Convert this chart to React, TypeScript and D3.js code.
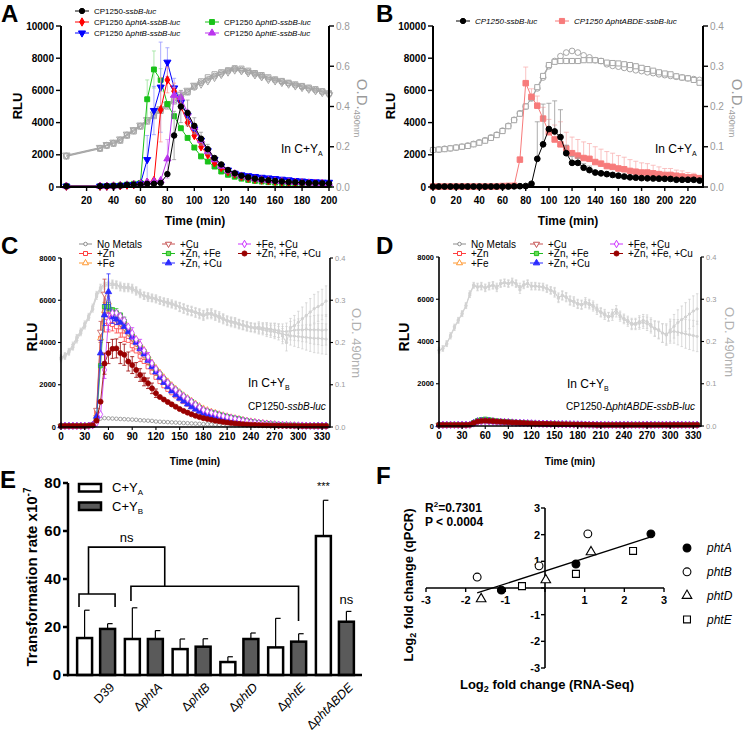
import React from 'react';
import * as d3 from 'd3';

const FONT = "'Liberation Sans', Arial, Helvetica, sans-serif";

// ---------- panel A: RLU and OD in C+YA
const timeA = [5, 30, 35, 40, 45, 50, 55, 60, 65, 70, 75, 80, 85, 90, 95, 100, 105, 110, 115, 120, 125, 130, 135, 140, 145, 150, 155, 160, 165, 170, 175, 180, 185, 190, 195, 200];
const rluA_wt = [50, 50, 60, 70, 90, 130, 150, 150, 200, 200, 250, 800, 3200, 5000, 4600, 3800, 3000, 2350, 1800, 1400, 1050, 850, 700, 600, 520, 460, 420, 380, 340, 310, 290, 270, 250, 240, 230, 220];
const rluA_phtA = [50, 50, 50, 60, 80, 120, 150, 200, 300, 400, 4800, 6650, 5950, 5000, 4000, 3200, 2500, 2000, 1500, 1200, 950, 800, 650, 550, 480, 430, 390, 350, 320, 290, 270, 250, 240, 230, 220, 210];
const rluA_phtB = [50, 50, 50, 60, 80, 120, 150, 200, 1700, 4750, 6200, 7750, 6150, 5250, 4450, 3600, 2900, 2250, 1700, 1300, 1050, 850, 750, 700, 650, 600, 560, 520, 480, 440, 400, 370, 340, 320, 300, 290];
const rluA_phtD = [50, 50, 60, 80, 100, 150, 200, 250, 5450, 7300, 6650, 5150, 4400, 3650, 3050, 2450, 1900, 1580, 1270, 960, 760, 640, 520, 440, 380, 340, 300, 270, 250, 230, 210, 190, 170, 160, 150, 140];
const rluA_phtE = [50, 50, 50, 60, 80, 120, 150, 200, 300, 350, 400, 1750, 5700, 5550, 4600, 3700, 2900, 2200, 1700, 1300, 1000, 820, 680, 580, 500, 450, 400, 370, 340, 310, 290, 270, 250, 240, 230, 220];
const odA_1 = [0.155, 0.193, 0.208, 0.218, 0.234, 0.259, 0.28, 0.303, 0.33, 0.358, 0.383, 0.407, 0.432, 0.449, 0.473, 0.495, 0.518, 0.534, 0.551, 0.564, 0.576, 0.586, 0.581, 0.572, 0.561, 0.551, 0.539, 0.531, 0.523, 0.515, 0.506, 0.498, 0.49, 0.482, 0.473, 0.462];
const odA_2 = [0.152, 0.19, 0.205, 0.215, 0.23, 0.255, 0.276, 0.3, 0.325, 0.352, 0.378, 0.4, 0.425, 0.445, 0.47, 0.5, 0.525, 0.545, 0.56, 0.57, 0.58, 0.59, 0.588, 0.578, 0.566, 0.556, 0.545, 0.535, 0.527, 0.518, 0.51, 0.502, 0.494, 0.486, 0.476, 0.466];
const odA_3 = [0.158, 0.196, 0.21, 0.222, 0.238, 0.262, 0.284, 0.307, 0.334, 0.362, 0.388, 0.412, 0.44, 0.46, 0.48, 0.505, 0.512, 0.528, 0.545, 0.56, 0.572, 0.582, 0.578, 0.568, 0.558, 0.548, 0.535, 0.528, 0.52, 0.512, 0.503, 0.495, 0.487, 0.479, 0.47, 0.458];
const errA_wt = [[85, 1500], [90, 1000], [95, 800], [100, 500], [105, 400], [110, 300]];
const errA_phtA = [[75, 2000], [80, 800], [85, 500]];
const errA_phtB = [[65, 1500], [70, 1500], [75, 2800], [80, 900], [85, 600]];
const errA_phtD = [[65, 1200], [70, 1150], [75, 700]];
const errA_phtE = [[80, 1200], [85, 500], [90, 400]];

// ---------- panel B
const timeB = [0, 5, 10, 15, 20, 25, 30, 35, 40, 45, 50, 55, 60, 65, 70, 75, 80, 85, 90, 95, 100, 105, 110, 115, 120, 125, 130, 135, 140, 145, 150, 155, 160, 165, 170, 175, 180, 185, 190, 195, 200, 205, 210, 215, 220, 225, 230];
const rluB_wt = [30, 30, 30, 30, 30, 30, 30, 30, 30, 30, 30, 30, 30, 30, 40, 50, 60, 200, 1750, 2650, 3600, 3450, 3100, 2100, 1500, 1500, 1200, 1050, 900, 850, 800, 750, 700, 650, 600, 580, 550, 540, 530, 520, 510, 500, 450, 450, 450, 450, 400];
const rluB_ko = [30, 30, 30, 30, 30, 30, 30, 30, 30, 30, 30, 30, 60, 70, 80, 1700, 6450, 5600, 5050, 4250, 3400, 2950, 2650, 2400, 2100, 1950, 1800, 1750, 1550, 1450, 1300, 1250, 1150, 1100, 1000, 950, 900, 900, 850, 800, 750, 750, 700, 650, 600, 600, 550];
const odB_circ = [0.092, 0.093, 0.095, 0.096, 0.098, 0.1, 0.103, 0.107, 0.111, 0.116, 0.123, 0.13, 0.14, 0.152, 0.167, 0.183, 0.2, 0.22, 0.245, 0.272, 0.3, 0.313, 0.325, 0.334, 0.338, 0.334, 0.327, 0.322, 0.315, 0.313, 0.305, 0.301, 0.299, 0.296, 0.293, 0.29, 0.288, 0.285, 0.283, 0.28, 0.278, 0.276, 0.274, 0.272, 0.27, 0.268, 0.266];
const odB_sq = [0.092, 0.093, 0.094, 0.096, 0.098, 0.1, 0.102, 0.106, 0.11, 0.115, 0.122, 0.129, 0.139, 0.151, 0.166, 0.182, 0.2, 0.221, 0.248, 0.276, 0.303, 0.311, 0.313, 0.313, 0.313, 0.313, 0.315, 0.315, 0.315, 0.313, 0.309, 0.308, 0.307, 0.305, 0.303, 0.3, 0.296, 0.293, 0.289, 0.285, 0.282, 0.28, 0.275, 0.272, 0.27, 0.266, 0.259];
const errB_wt = [[90, 2300], [95, 2500], [100, 1600], [105, 1900], [110, 1700], [115, 500], [120, 400], [125, 300], [130, 250], [135, 250]];
const errB_ko = [[80, 1000], [85, 500], [90, 600], [95, 700], [100, 800], [105, 900], [110, 1400], [115, 1000], [120, 1000], [125, 1000], [130, 1000], [135, 950], [140, 950], [145, 900], [150, 900], [155, 850], [160, 800], [165, 750], [170, 700], [175, 650], [180, 600], [185, 550], [190, 500], [195, 450], [200, 400], [205, 400], [210, 350], [215, 350], [220, 300], [225, 250]];

// ---------- panel C (5-min reads, 0..335)
const timeC = d3.range(0, 340, 5);
const cNone = [50, 50, 50, 50, 50, 50, 50, 60, 80, 200, 400, 420, 410, 400, 390, 380, 370, 360, 350, 340, 320, 310, 300, 290, 260, 250, 240, 230, 220, 210, 200, 190, 180, 170, 160, 150, 140, 130, 120, 110, 100, 95, 90, 85, 80, 75, 70, 65, 60, 60, 55, 55, 50, 50, 50, 50, 50, 50, 50, 50, 50, 50, 50, 50, 50, 50, 50, 50];
const cZn = [50, 50, 50, 50, 50, 50, 50, 60, 100, 700, 4200, 5000, 4900, 4850, 4750, 4550, 4350, 4100, 3850, 3600, 3350, 3100, 2850, 2600, 2350, 2150, 1950, 1780, 1620, 1470, 1330, 1200, 1080, 960, 850, 760, 680, 620, 570, 520, 470, 430, 390, 350, 320, 290, 260, 230, 200, 180, 160, 140, 125, 110, 100, 90, 85, 80, 75, 70, 65, 60, 55, 55, 50, 50, 50, 50];
const cFe = [50, 50, 50, 50, 50, 50, 50, 60, 100, 600, 4200, 5500, 5900, 5500, 5400, 5250, 5000, 4700, 4400, 4150, 3900, 3650, 3350, 3050, 2800, 2580, 2360, 2160, 1980, 1810, 1650, 1500, 1370, 1240, 1110, 990, 880, 800, 730, 670, 610, 560, 510, 460, 420, 380, 340, 300, 270, 240, 210, 190, 170, 150, 130, 115, 100, 90, 85, 80, 75, 70, 65, 60, 55, 55, 50, 50];
const cCu = [50, 50, 50, 50, 50, 50, 50, 60, 120, 800, 4500, 6300, 5300, 5300, 5100, 4900, 4700, 4450, 4200, 3950, 3650, 3400, 3100, 2850, 2600, 2380, 2160, 1960, 1780, 1620, 1460, 1320, 1190, 1070, 950, 850, 750, 680, 610, 550, 490, 440, 390, 350, 310, 280, 250, 220, 190, 170, 150, 135, 120, 105, 95, 85, 80, 75, 70, 65, 60, 60, 55, 55, 50, 50, 50, 50];
const cZnFe = [50, 50, 50, 50, 50, 50, 50, 60, 80, 400, 2900, 5700, 5700, 5550, 5400, 5300, 5000, 4650, 4300, 4050, 3800, 3560, 3250, 2950, 2700, 2500, 2270, 2070, 1900, 1750, 1600, 1450, 1320, 1200, 1050, 920, 800, 740, 690, 650, 590, 540, 490, 450, 410, 380, 330, 290, 250, 230, 200, 180, 160, 140, 125, 110, 100, 90, 85, 75, 70, 65, 60, 60, 55, 50, 50, 50];
const cZnCu = [50, 50, 50, 50, 50, 50, 50, 60, 100, 500, 3500, 5300, 6400, 5200, 5100, 4950, 4750, 4500, 4250, 4000, 3700, 3450, 3150, 2850, 2600, 2350, 2100, 1900, 1700, 1520, 1360, 1220, 1080, 950, 840, 740, 650, 580, 520, 460, 410, 360, 320, 280, 250, 220, 195, 170, 150, 130, 115, 105, 95, 85, 80, 75, 70, 65, 60, 60, 55, 55, 50, 50, 50, 50, 50, 50];
const cFeCu = [50, 50, 50, 50, 50, 50, 50, 60, 80, 200, 600, 2700, 5000, 5400, 5400, 5250, 5050, 4750, 4450, 4150, 3900, 3620, 3320, 3020, 2750, 2520, 2300, 2100, 1920, 1760, 1600, 1460, 1330, 1200, 1060, 930, 810, 740, 680, 630, 570, 520, 470, 430, 390, 350, 310, 280, 240, 220, 195, 175, 155, 135, 120, 105, 95, 85, 80, 75, 70, 65, 60, 55, 55, 50, 50, 50];
const cAll = [50, 50, 50, 50, 50, 50, 50, 60, 80, 300, 1200, 3000, 3500, 3700, 3720, 3500, 3420, 3100, 2930, 2700, 2460, 2250, 2070, 1830, 1600, 1420, 1300, 1180, 1070, 960, 850, 760, 680, 600, 530, 470, 420, 380, 340, 300, 270, 240, 215, 190, 170, 150, 135, 120, 110, 100, 90, 85, 80, 75, 70, 65, 60, 60, 55, 55, 50, 50, 50, 50, 50, 50, 50, 50];
const errC_zn = [[55, 500], [60, 400], [65, 300], [70, 300], [75, 300], [80, 300], [90, 250], [100, 250]];
const errC_fe = [[55, 400], [60, 300]];
const errC_cu = [[50, 500], [55, 700], [60, 300]];
const errC_znfe = [[60, 200], [70, 200], [80, 200]];
const errC_zncu = [[50, 600], [55, 500], [60, 850], [65, 300], [70, 250]];
const errC_fecu = [[55, 400], [60, 400], [90, 250], [100, 250], [110, 200]];
const errC_all = [[55, 500], [60, 500], [65, 450], [70, 450], [75, 500], [80, 500], [85, 450], [90, 400], [95, 350], [100, 300], [105, 300], [110, 250], [115, 250], [120, 200]];
const odC_1 = [0.163, 0.168, 0.178, 0.19, 0.21, 0.225, 0.241, 0.26, 0.281, 0.312, 0.328, 0.336, 0.338, 0.34, 0.338, 0.332, 0.332, 0.33, 0.328, 0.324, 0.316, 0.312, 0.308, 0.307, 0.305, 0.3, 0.298, 0.296, 0.293, 0.29, 0.285, 0.28, 0.277, 0.276, 0.273, 0.268, 0.265, 0.27, 0.269, 0.266, 0.263, 0.258, 0.253, 0.25, 0.249, 0.245, 0.242, 0.24, 0.237, 0.236, 0.237, 0.235, 0.233, 0.232, 0.23, 0.228, 0.215, 0.2, 0.235, 0.24, 0.248, 0.256, 0.264, 0.272, 0.28, 0.285, 0.29, 0.298];
const odC_2 = [0.165, 0.17, 0.18, 0.195, 0.213, 0.228, 0.245, 0.263, 0.285, 0.315, 0.33, 0.34, 0.342, 0.338, 0.335, 0.335, 0.33, 0.332, 0.33, 0.322, 0.318, 0.31, 0.31, 0.305, 0.302, 0.3, 0.295, 0.293, 0.29, 0.287, 0.283, 0.282, 0.278, 0.274, 0.27, 0.27, 0.266, 0.268, 0.27, 0.264, 0.26, 0.256, 0.252, 0.25, 0.247, 0.244, 0.241, 0.238, 0.236, 0.235, 0.234, 0.233, 0.232, 0.23, 0.229, 0.228, 0.226, 0.226, 0.228, 0.229, 0.23, 0.23, 0.231, 0.23, 0.23, 0.23, 0.229, 0.23];
const odC_3 = [0.16, 0.166, 0.176, 0.188, 0.205, 0.222, 0.238, 0.258, 0.278, 0.308, 0.325, 0.333, 0.335, 0.336, 0.336, 0.33, 0.328, 0.328, 0.325, 0.32, 0.314, 0.31, 0.305, 0.304, 0.302, 0.298, 0.296, 0.292, 0.29, 0.288, 0.284, 0.279, 0.275, 0.273, 0.27, 0.266, 0.262, 0.266, 0.266, 0.262, 0.258, 0.254, 0.25, 0.247, 0.245, 0.242, 0.24, 0.237, 0.235, 0.233, 0.232, 0.23, 0.228, 0.226, 0.225, 0.222, 0.22, 0.218, 0.216, 0.215, 0.214, 0.213, 0.212, 0.211, 0.21, 0.21, 0.209, 0.208];
const odErrC = [0.006, 0.006, 0.006, 0.006, 0.006, 0.006, 0.006, 0.006, 0.006, 0.006, 0.008, 0.008, 0.008, 0.008, 0.008, 0.008, 0.008, 0.008, 0.008, 0.008, 0.008, 0.008, 0.008, 0.008, 0.008, 0.008, 0.008, 0.008, 0.008, 0.008, 0.01, 0.01, 0.01, 0.01, 0.01, 0.01, 0.01, 0.01, 0.01, 0.01, 0.01, 0.01, 0.01, 0.01, 0.01, 0.01, 0.01, 0.01, 0.01, 0.01, 0.012, 0.012, 0.014, 0.014, 0.016, 0.016, 0.018, 0.02, 0.022, 0.024, 0.026, 0.028, 0.03, 0.032, 0.034, 0.035, 0.036, 0.036];

// ---------- panel D
const timeD = d3.range(0, 340, 5);
const dNone = [50, 50, 50, 50, 50, 50, 50, 50, 60, 100, 150, 170, 170, 160, 150, 150, 140, 140, 130, 120, 110, 105, 100, 95, 90, 85, 80, 80, 75, 75, 70, 70, 65, 65, 60, 60, 60, 55, 55, 55, 55, 50, 50, 50, 50, 50, 50, 50, 50, 50, 50, 50, 50, 50, 50, 50, 50, 50, 50, 50, 50, 50, 50, 50, 50, 50, 50, 50];
const dZn = [50, 50, 50, 50, 50, 50, 50, 50, 60, 150, 230, 260, 270, 250, 230, 210, 200, 190, 180, 170, 160, 150, 140, 130, 120, 115, 110, 105, 100, 95, 90, 85, 80, 80, 75, 75, 70, 70, 65, 60, 60, 50, 50, 50, 50, 50, 50, 50, 50, 50, 50, 50, 50, 50, 50, 50, 50, 50, 50, 50, 50, 50, 50, 50, 50, 50, 50, 50];
const dFe = [50, 50, 50, 50, 50, 50, 50, 50, 60, 140, 220, 250, 260, 240, 220, 200, 190, 180, 170, 160, 150, 140, 130, 125, 120, 115, 110, 105, 100, 95, 90, 85, 80, 75, 75, 70, 70, 65, 65, 60, 60, 50, 50, 50, 50, 50, 50, 50, 50, 50, 50, 50, 50, 50, 50, 50, 50, 50, 50, 50, 50, 50, 50, 50, 50, 50, 50, 50];
const dCu = [50, 50, 50, 50, 50, 50, 50, 50, 60, 130, 200, 230, 240, 230, 215, 200, 190, 180, 170, 160, 150, 140, 130, 120, 115, 110, 105, 100, 95, 90, 85, 80, 80, 75, 70, 70, 65, 65, 60, 60, 55, 50, 50, 50, 50, 50, 50, 50, 50, 50, 50, 50, 50, 50, 50, 50, 50, 50, 50, 50, 50, 50, 50, 50, 50, 50, 50, 50];
const dZnFe = [50, 50, 50, 50, 50, 50, 50, 50, 60, 160, 250, 300, 320, 290, 260, 240, 220, 210, 200, 185, 170, 160, 150, 140, 130, 120, 115, 110, 105, 100, 95, 90, 85, 80, 80, 75, 70, 70, 65, 65, 60, 50, 50, 50, 50, 50, 50, 50, 50, 50, 50, 50, 50, 50, 50, 50, 50, 50, 50, 50, 50, 50, 50, 50, 50, 50, 50, 50];
const dZnCu = [50, 50, 50, 50, 50, 50, 50, 50, 60, 140, 220, 250, 250, 240, 220, 200, 190, 180, 170, 160, 150, 140, 130, 120, 115, 110, 105, 100, 95, 90, 85, 80, 80, 75, 70, 70, 65, 65, 60, 60, 55, 50, 50, 50, 50, 50, 50, 50, 50, 50, 50, 50, 50, 50, 50, 50, 50, 50, 50, 50, 50, 50, 50, 50, 50, 50, 50, 50];
const dFeCu = [50, 50, 50, 50, 50, 50, 50, 50, 60, 120, 190, 220, 230, 220, 210, 200, 190, 180, 170, 160, 150, 140, 130, 125, 120, 115, 110, 105, 100, 95, 90, 85, 80, 75, 75, 70, 70, 65, 60, 60, 55, 50, 50, 50, 50, 50, 50, 50, 50, 50, 50, 50, 50, 50, 50, 50, 50, 50, 50, 50, 50, 50, 50, 50, 50, 50, 50, 50];
const dAll = [50, 50, 50, 50, 50, 50, 50, 50, 60, 140, 210, 240, 250, 240, 230, 210, 200, 190, 180, 170, 160, 150, 140, 130, 120, 115, 110, 105, 100, 95, 90, 85, 80, 80, 75, 70, 70, 65, 65, 60, 60, 50, 50, 50, 50, 50, 50, 50, 50, 50, 50, 50, 50, 50, 50, 50, 50, 50, 50, 50, 50, 50, 50, 50, 50, 50, 50, 50];
const odD_1 = [0.18, 0.184, 0.196, 0.215, 0.235, 0.251, 0.267, 0.286, 0.314, 0.334, 0.33, 0.332, 0.326, 0.33, 0.332, 0.326, 0.338, 0.34, 0.338, 0.342, 0.338, 0.322, 0.335, 0.338, 0.33, 0.332, 0.33, 0.33, 0.326, 0.322, 0.318, 0.302, 0.31, 0.306, 0.298, 0.296, 0.29, 0.288, 0.294, 0.29, 0.286, 0.278, 0.27, 0.266, 0.259, 0.266, 0.275, 0.262, 0.255, 0.25, 0.243, 0.243, 0.247, 0.25, 0.247, 0.24, 0.231, 0.228, 0.22, 0.215, 0.227, 0.236, 0.245, 0.252, 0.258, 0.265, 0.272, 0.277];
const odD_2 = [0.178, 0.183, 0.194, 0.212, 0.232, 0.249, 0.265, 0.284, 0.31, 0.332, 0.328, 0.33, 0.328, 0.332, 0.334, 0.33, 0.336, 0.338, 0.336, 0.34, 0.336, 0.33, 0.333, 0.336, 0.332, 0.33, 0.33, 0.328, 0.324, 0.32, 0.315, 0.305, 0.308, 0.304, 0.296, 0.293, 0.288, 0.286, 0.29, 0.287, 0.282, 0.274, 0.268, 0.262, 0.258, 0.26, 0.268, 0.258, 0.252, 0.246, 0.24, 0.24, 0.243, 0.245, 0.242, 0.236, 0.23, 0.226, 0.22, 0.218, 0.222, 0.224, 0.222, 0.22, 0.218, 0.216, 0.214, 0.212];
const odErrD = odErrC;

// ---------- panel E
const groupsE = ['D39', 'ΔphtA', 'ΔphtB', 'ΔphtD', 'ΔphtE', 'ΔphtABDE'];
const rateYA = [15.4, 15, 10.8, 5.4, 11.5, 57.9];
const rateYA_err = [11.6, 13, 4.2, 2.2, 12.1, 14.9];
const rateYB = [19.2, 15, 11.8, 15, 13.9, 22.2];
const rateYB_err = [2.2, 3.5, 3.3, 2.5, 3.3, 4.3];

// ---------- panel F
const fPhtA = [[2.67, 2.03], [0.78, 0.9], [-1.1, -0.08]];
const fPhtB = [[-1.71, 0.41], [-0.15, 0.83], [1.08, 2.03]];
const fPhtD = [[-1.61, -0.41], [0.02, 0.3], [1.16, 1.35]];
const fPhtE = [[-0.58, 0.07], [0.78, 0.53], [2.22, 1.39]];

type Sym = 'circle' | 'square' | 'triangle' | 'triangleDown' | 'diamond';
const symType = (s: Sym) =>
  s === 'circle' ? d3.symbolCircle : s === 'square' ? d3.symbolSquare : s === 'diamond' ? d3.symbolDiamond : d3.symbolTriangle;

function Mark({ x, y, sym, size, fill, stroke, sw = 1 }: any) {
  const d = d3.symbol().type(symType(sym)).size(size)() as string;
  const rot = sym === 'triangleDown' ? ' rotate(180)' : '';
  return <path d={d} transform={`translate(${x},${y})${rot}`} fill={fill} stroke={stroke} strokeWidth={sw} />;
}

// line + markers + optional error bars
function Curve({ t, v, x, y, color, sym, size, fill, errs, errColor, lw = 1, mstroke, msw = 1, up = false, cap = 2 }: any) {
  const pts: [number, number][] = v.map((val: number, i: number) => [t[i], val]).filter((p: any) => p[0] !== undefined);
  const path = d3.line<[number, number]>().x(d => x(d[0])).y(d => y(d[1]))(pts) || '';
  return (
    <g>
      {errs && errs.map(([tt, e]: number[], i: number) => {
        const idx = t.indexOf(tt);
        if (idx < 0) return null;
        const cx = x(tt);
        const y1 = y(v[idx] + e);
        const y2 = up ? y(v[idx]) : y(Math.max(0, v[idx] - e));
        return (
          <g key={i} stroke={errColor ?? color} strokeWidth={0.8}>
            <line x1={cx} x2={cx} y1={y1} y2={y2} />
            <line x1={cx - cap} x2={cx + cap} y1={y1} y2={y1} />
            {!up && <line x1={cx - cap} x2={cx + cap} y1={y2} y2={y2} />}
          </g>
        );
      })}
      <path d={path} fill="none" stroke={color} strokeWidth={lw} />
      {sym && pts.map((p, i) => (
        <Mark key={i} x={x(p[0])} y={y(p[1])} sym={sym} size={size} fill={fill} stroke={mstroke ?? color} sw={msw} />
      ))}
    </g>
  );
}

function YAxis({ scale, x, ticks, side, fontSize, weight = 'bold', color = '#000', len = 4, sw = 2, fmt = (d: number) => String(d), gap = 2 }: any) {
  const [r0, r1] = scale.range();
  const dir = side === 'left' ? -1 : 1;
  return (
    <g>
      <line x1={x} x2={x} y1={r0 + sw / 2} y2={r1} stroke="#000" strokeWidth={sw} />
      {ticks.map((t: number) => (
        <g key={t}>
          <line x1={x} x2={x + dir * len} y1={scale(t)} y2={scale(t)} stroke="#000" strokeWidth={sw * 0.7} />
          <text x={x + dir * (len + gap)} y={scale(t)} dy="0.35em" textAnchor={side === 'left' ? 'end' : 'start'}
            fontSize={fontSize} fontWeight={weight} fill={color}>{fmt(t)}</text>
        </g>
      ))}
    </g>
  );
}

function XAxis({ scale, y, ticks, x0, x1, fontSize, len = 4, sw = 2, labelDy = 12 }: any) {
  return (
    <g>
      <line x1={x0} x2={x1} y1={y} y2={y} stroke="#000" strokeWidth={sw} />
      {ticks.map((t: number) => (
        <g key={t}>
          <line x1={scale(t)} x2={scale(t)} y1={y} y2={y + len} stroke="#000" strokeWidth={sw * 0.7} />
          <text x={scale(t)} y={y + labelDy} textAnchor="middle" fontSize={fontSize} fontWeight="bold">{t}</text>
        </g>
      ))}
    </g>
  );
}

function Rich({ s }: { s: string }) {
  return <>{s.split('*').map((p, i) => <tspan key={i} fontStyle={i % 2 ? 'italic' : 'normal'}>{p}</tspan>)}</>;
}

function LegendItem({ x, y, color, sym, size, fill, label, fontSize, w = 14, msw = 1 }: any) {
  return (
    <g>
      <line x1={x} x2={x + w} y1={y} y2={y} stroke={color} strokeWidth={1} />
      <Mark x={x + w / 2} y={y} sym={sym} size={size} fill={fill} stroke={color} sw={msw} />
      <text x={x + w + 5} y={y} dy="0.35em" fontSize={fontSize}><Rich s={label} /></text>
    </g>
  );
}

const cSeries = [
  { v: cNone, color: '#8c8c8c', sym: 'circle', size: 10, fill: 'white', label: 'No Metals' },
  { v: cZn, color: '#ff4040', sym: 'square', size: 16, fill: 'white', label: '+Zn', errs: errC_zn },
  { v: cFe, color: '#ff9933', sym: 'triangle', size: 16, fill: 'white', label: '+Fe', errs: errC_fe },
  { v: cCu, color: '#c65353', sym: 'triangleDown', size: 16, fill: 'white', label: '+Cu', errs: errC_cu },
  { v: cZnFe, color: '#22bb22', sym: 'square', size: 18, fill: '#66dd55', label: '+Zn, +Fe', errs: errC_znfe },
  { v: cZnCu, color: '#2b2bff', sym: 'triangle', size: 18, fill: '#2b2bff', label: '+Zn, +Cu', errs: errC_zncu },
  { v: cFeCu, color: '#cc33ff', sym: 'diamond', size: 16, fill: 'white', label: '+Fe, +Cu', errs: errC_fecu },
  { v: cAll, color: '#990000', sym: 'circle', size: 20, fill: '#990000', label: '+Zn, +Fe, +Cu', errs: errC_all },
];
const dValues = [dNone, dZn, dFe, dCu, dZnFe, dZnCu, dFeCu, dAll];

function MetalLegend({ cols }: { cols: number[] }) {
  const rows = [244, 253.5, 263];
  return (
    <g>
      {cSeries.map((s, i) => (
        <LegendItem key={i} x={cols[Math.floor(i / 3)]} y={rows[i % 3]} color={s.color} sym={s.sym} size={s.size}
          fill={s.fill} label={s.label} fontSize={10} w={13} />
      ))}
    </g>
  );
}

export default function App() {
  // A
  const xA = d3.scaleLinear([1, 200], [61, 329]);
  const yA = d3.scaleLinear([0, 10000], [187, 26]);
  const oA = d3.scaleLinear([0, 0.8], [187, 26]);
  // B
  const xB = d3.scaleLinear([0, 233], [433, 703]);
  const yB = d3.scaleLinear([0, 10000], [187, 26]);
  const oB = d3.scaleLinear([0, 0.4], [187, 26]);
  // C
  const xC = d3.scaleLinear([0, 340], [61, 330]);
  const yC = d3.scaleLinear([0, 8000], [427, 258]);
  const oC = d3.scaleLinear([0, 0.4], [427, 258]);
  // D
  const xD = d3.scaleLinear([0, 340], [439, 701]);
  const yD = d3.scaleLinear([0, 8000], [426, 257]);
  const oD = d3.scaleLinear([0, 0.4], [426, 257]);
  // E
  const xE = d3.scaleBand<string>().domain(groupsE).range([69, 362]).paddingInner(0.205).paddingOuter(0.17);
  const xSub = d3.scaleBand<string>().domain(['A', 'B']).range([0, xE.bandwidth()]).paddingInner(0.35);
  const yE = d3.scaleLinear([0, 80], [675, 483]);
  const bx = (g: string, f: number) => (xE(g) as number) + f * xE.bandwidth();
  // F
  const xF = d3.scaleLinear([-3, 3], [426, 664]);
  const yF = d3.scaleLinear([-3, 3], [668, 508]);
  const allF = [...fPhtA, ...fPhtB, ...fPhtD, ...fPhtE];
  const mx = d3.mean(allF, d => d[0]) as number;
  const my = d3.mean(allF, d => d[1]) as number;
  const slope = (d3.sum(allF, d => (d[0] - mx) * (d[1] - my))) / (d3.sum(allF, d => (d[0] - mx) ** 2));
  const icpt = my - slope * mx;
  const [fx0, fx1] = d3.extent(allF, d => d[0]) as [number, number];

  const odGray = '#a6a6a6';
  const odLight = '#d2d2d2';
  const labGray = '#9a9a9a';

  return (
    <svg width={746} height={731} style={{ position: 'absolute', left: 0, top: 0, background: '#fff' }} fontFamily={FONT}>
      {/* ================= A ================= */}
      <text x={1} y={22} fontSize={24} fontWeight="bold">A</text>
      <Curve t={timeA} v={odA_1} x={xA} y={oA} color={odGray} sym="circle" size={26} fill="none" />
      <Curve t={timeA} v={odA_2} x={xA} y={oA} color={odGray} sym="square" size={26} fill="none" />
      <Curve t={timeA} v={odA_3} x={xA} y={oA} color={odGray} sym="triangleDown" size={24} fill="none" />
      <Curve t={timeA} v={rluA_phtD} x={xA} y={yA} color="#19c219" sym="square" size={24} fill="#19c219" errs={errA_phtD} errColor="#9be39b" />
      <Curve t={timeA} v={rluA_phtB} x={xA} y={yA} color="#0000ff" sym="triangleDown" size={22} fill="#0000ff" errs={errA_phtB} errColor="#9999ff" />
      <Curve t={timeA} v={rluA_phtA} x={xA} y={yA} color="#ff0000" sym="diamond" size={20} fill="#ff0000" errs={errA_phtA} errColor="#ff9999" />
      <Curve t={timeA} v={rluA_phtE} x={xA} y={yA} color="#bb33ee" sym="triangle" size={22} fill="#bb33ee" errs={errA_phtE} errColor="#dd99f5" />
      <Curve t={timeA} v={rluA_wt} x={xA} y={yA} color="#000" sym="circle" size={24} fill="#000" errs={errA_wt} errColor="#999" />
      <YAxis scale={yA} x={61} side="left" ticks={[0, 2000, 4000, 6000, 8000, 10000]} fontSize={10} len={5} />
      <YAxis scale={oA} x={329} side="right" ticks={[0, 0.2, 0.4, 0.6, 0.8]} fontSize={10} weight="normal" color={labGray} len={5} fmt={(d: number) => d.toFixed(1)} />
      <XAxis scale={xA} y={187} x0={61} x1={329} ticks={d3.range(20, 201, 20)} fontSize={10} len={4} labelDy={17} />
      <text transform="translate(22,106) rotate(-90)" textAnchor="middle" fontSize={13} fontWeight="bold">RLU</text>
      <text transform="translate(357,108) rotate(90)" textAnchor="middle" fill={labGray} fontSize={15}>O.D.<tspan fontSize={9} dy={3}>490nm</tspan></text>
      <text x={195} y={225} textAnchor="middle" fontSize={12} fontWeight="bold">Time  (min)</text>
      <text x={281} y={153} fontSize={12}>In C+Y<tspan fontSize={7} dy={3}>A</tspan></text>
      <LegendItem x={75} y={11} color="#000" sym="circle" size={22} fill="#000" label="CP1250-*ssbB*-*luc*" fontSize={8} />
      <LegendItem x={75} y={22} color="#ff0000" sym="diamond" size={20} fill="#ff0000" label="CP1250 Δ*phtA*-*ssbB*-*luc*" fontSize={8} />
      <LegendItem x={75} y={33} color="#0000ff" sym="triangleDown" size={22} fill="#0000ff" label="CP1250 Δ*phtB*-*ssbB*-*luc*" fontSize={8} />
      <LegendItem x={205} y={22} color="#19c219" sym="square" size={24} fill="#19c219" label="CP1250 Δ*phtD*-*ssbB*-*luc*" fontSize={8} />
      <LegendItem x={205} y={33} color="#bb33ee" sym="triangle" size={22} fill="#bb33ee" label="CP1250 Δ*phtE*-*ssbB*-*luc*" fontSize={8} />

      {/* ================= B ================= */}
      <text x={376} y={22} fontSize={24} fontWeight="bold">B</text>
      <Curve t={timeB} v={odB_circ} x={xB} y={oB} color={odGray} sym="circle" size={26} fill="white" />
      <Curve t={timeB} v={odB_sq} x={xB} y={oB} color={odGray} sym="square" size={26} fill="white" />
      <Curve t={timeB} v={rluB_ko} x={xB} y={yB} color="#f77b7b" sym="square" size={30} fill="#f77b7b" errs={errB_ko} errColor="#f9b3b3" up cap={2.5} />
      <Curve t={timeB} v={rluB_wt} x={xB} y={yB} color="#000" sym="circle" size={26} fill="#000" errs={errB_wt} errColor="#999" up cap={2.5} />
      <YAxis scale={yB} x={433} side="left" ticks={[0, 2000, 4000, 6000, 8000, 10000]} fontSize={10} len={5} />
      <YAxis scale={oB} x={703} side="right" ticks={[0, 0.1, 0.2, 0.3, 0.4]} fontSize={10} weight="normal" color={labGray} len={5} fmt={(d: number) => d.toFixed(1)} />
      <XAxis scale={xB} y={187} x0={433} x1={703} ticks={d3.range(0, 221, 20)} fontSize={10} len={4} labelDy={17} />
      <text transform="translate(395,106) rotate(-90)" textAnchor="middle" fontSize={13} fontWeight="bold">RLU</text>
      <text transform="translate(732,108) rotate(90)" textAnchor="middle" fill={labGray} fontSize={15}>O.D.<tspan fontSize={9} dy={3}>490nm</tspan></text>
      <text x={568} y={225} textAnchor="middle" fontSize={12} fontWeight="bold">Time  (min)</text>
      <text x={655} y={153} fontSize={12}>In C+Y<tspan fontSize={7} dy={3}>A</tspan></text>
      <LegendItem x={456} y={21} color="#000" sym="circle" size={22} fill="#000" label="*CP1250-ssbB-luc*" fontSize={8} />
      <LegendItem x={555} y={21} color="#f77b7b" sym="square" size={26} fill="#f77b7b" label="*CP1250 ΔphtABDE-ssbB-luc*" fontSize={8} />

      {/* ================= C ================= */}
      <text x={1} y={254} fontSize={24} fontWeight="bold">C</text>
      {[odC_1, odC_2, odC_3].map((o, k) => (
        <Curve key={k} t={timeC} v={o} x={xC} y={oC} color={odLight} sym="circle" size={4} fill={odLight}
          errs={timeC.map((tt, i) => [tt, odErrC[i]])} cap={1.2} />
      ))}
      {cSeries.map((s, k) => (
        <Curve key={k} t={timeC} v={s.v} x={xC} y={yC} color={s.color} sym={s.sym} size={s.size} fill={s.fill}
          errs={s.errs} errColor={s.color} lw={0.8} msw={0.8} />
      ))}
      <YAxis scale={yC} x={61} side="left" ticks={[0, 2000, 4000, 6000, 8000]} fontSize={7.5} len={3} sw={1.6} />
      <YAxis scale={oC} x={330} side="right" ticks={[0, 0.1, 0.2, 0.3, 0.4]} fontSize={7.5} weight="normal" color={labGray} len={3} sw={1.6} fmt={(d: number) => d.toFixed(1)} />
      <XAxis scale={xC} y={427} x0={61} x1={330} ticks={d3.range(0, 331, 30)} fontSize={10} len={3} sw={1.6} labelDy={13} />
      <text transform="translate(37,337) rotate(-90)" textAnchor="middle" fontSize={14} fontWeight="bold">RLU</text>
      <text transform="translate(352,343) rotate(90)" textAnchor="middle" fill="#b0b0b0" fontSize={13}>O.D. 490nm</text>
      <text x={195} y={465} textAnchor="middle" fontSize={10} fontWeight="bold">Time  (min)</text>
      <text x={248} y={387} fontSize={12}>In C+Y<tspan fontSize={7} dy={3}>B</tspan></text>
      <text x={248} y={410} fontSize={10}><Rich s="CP1250-*ssbB-luc*" /></text>
      <MetalLegend cols={[79, 162, 238]} />

      {/* ================= D ================= */}
      <text x={376} y={254} fontSize={24} fontWeight="bold">D</text>
      {[odD_1, odD_2].map((o, k) => (
        <Curve key={k} t={timeD} v={o} x={xD} y={oD} color={odLight} sym="circle" size={4} fill={odLight}
          errs={timeD.map((tt, i) => [tt, odErrD[i]])} cap={1.2} />
      ))}
      {cSeries.map((s, k) => (
        <Curve key={k} t={timeD} v={dValues[k]} x={xD} y={yD} color={s.color} sym={s.sym} size={s.size} fill={s.fill}
          lw={0.8} msw={0.8} />
      ))}
      <YAxis scale={yD} x={439} side="left" ticks={[0, 2000, 4000, 6000, 8000]} fontSize={7.5} len={3} sw={1.6} />
      <YAxis scale={oD} x={701} side="right" ticks={[0, 0.1, 0.2, 0.3, 0.4]} fontSize={7.5} weight="normal" color={labGray} len={3} sw={1.6} fmt={(d: number) => d.toFixed(1)} />
      <XAxis scale={xD} y={426} x0={439} x1={701} ticks={d3.range(0, 331, 30)} fontSize={10} len={3} sw={1.6} labelDy={13} />
      <text transform="translate(409,337) rotate(-90)" textAnchor="middle" fontSize={14} fontWeight="bold">RLU</text>
      <text transform="translate(725,342) rotate(90)" textAnchor="middle" fill="#b0b0b0" fontSize={13}>O.D. 490nm</text>
      <text x={570} y={465} textAnchor="middle" fontSize={10} fontWeight="bold">Time  (min)</text>
      <text x={567} y={388} fontSize={12}>In C+Y<tspan fontSize={7} dy={3}>B</tspan></text>
      <text x={566} y={410} fontSize={10}><Rich s="CP1250-Δ*phtABDE-ssbB-luc*" /></text>
      <MetalLegend cols={[453, 530, 610]} />

      {/* ================= E ================= */}
      <text x={0} y={488} fontSize={24} fontWeight="bold">E</text>
      {groupsE.map((g, i) => {
        const x0 = xE(g) as number;
        const w = xSub.bandwidth();
        const bars = [
          { k: 'A', v: rateYA[i], e: rateYA_err[i], fill: '#ffffff' },
          { k: 'B', v: rateYB[i], e: rateYB_err[i], fill: '#5a5a5a' },
        ];
        return (
          <g key={g}>
            {bars.map(b => {
              const bxl = x0 + (xSub(b.k) as number);
              const cx = bxl + w / 2;
              return (
                <g key={b.k}>
                  <line x1={cx} x2={cx} y1={yE(b.v)} y2={yE(b.v + b.e)} stroke="#000" strokeWidth={1.2} />
                  <line x1={cx} x2={cx + 5} y1={yE(b.v + b.e)} y2={yE(b.v + b.e)} stroke="#000" strokeWidth={1.2} />
                  <rect x={bxl} y={yE(b.v)} width={w} height={yE(0) - yE(b.v)} fill={b.fill} stroke="#000" strokeWidth={2.5} />
                </g>
              );
            })}
            <text transform={`translate(${x0 + xE.bandwidth() / 2 + 19},688) rotate(-45)`} textAnchor="end" fontSize={12.5}>
              {g.startsWith('Δ') ? <><tspan>Δ</tspan><tspan fontStyle="italic">{g.slice(1)}</tspan></> : g}
            </text>
          </g>
        );
      })}
      <line x1={68} x2={68} y1={yE(0) + 1.25} y2={yE(80)} stroke="#000" strokeWidth={2.5} />
      {[0, 20, 40, 60, 80].map(t => (
        <g key={t}>
          <line x1={63} x2={68} y1={yE(t)} y2={yE(t)} stroke="#000" strokeWidth={2.5} />
          <text x={61} y={yE(t)} dy="0.36em" textAnchor="end" fontSize={15} fontWeight="bold">{t}</text>
        </g>
      ))}
      <line x1={67} x2={362} y1={yE(0)} y2={yE(0)} stroke="#000" strokeWidth={2.5} />
      <text transform="translate(37,577) rotate(-90)" textAnchor="middle" fontSize={15} fontWeight="bold">
        Transformation rate x10<tspan fontSize={10} dy={-6}>-7</tspan>
      </text>
      {/* significance brackets */}
      <g fill="none" stroke="#000" strokeWidth={1.6}>
        <path d={`M${bx('D39', 0.05)},${yE(28.3)}V${yE(33.75)}H${bx('D39', 1)}V${yE(28.3)}`} />
        <path d={`M${bx('ΔphtA', 0.16)},${yE(30.8)}V${yE(37)}H${bx('ΔphtE', 0.8)}V${yE(22.5)}`} />
        <path d={`M${bx('D39', 0.3)},${yE(33.75)}V${yE(53.3)}H${bx('ΔphtA', 1.05)}V${yE(37)}`} />
      </g>
      <text x={(bx('D39', 0.3) + bx('ΔphtA', 1.05)) / 2} y={yE(55.6)} textAnchor="middle" fontSize={13}>ns</text>
      <text x={bx('ΔphtABDE', 0) + (xSub('A') as number) + xSub.bandwidth() / 2} y={yE(rateYA[5] + rateYA_err[5]) - 10} textAnchor="middle" fontSize={11}>***</text>
      <text x={bx('ΔphtABDE', 0) + (xSub('B') as number) + xSub.bandwidth() / 2} y={yE(rateYB[5] + rateYB_err[5]) - 7} textAnchor="middle" fontSize={13}>ns</text>
      <rect x={79} y={484} width={22} height={7.5} fill="#fff" stroke="#000" strokeWidth={2.5} />
      <rect x={79} y={502.5} width={22} height={7.5} fill="#5a5a5a" stroke="#000" strokeWidth={2.5} />
      <text x={112} y={492} fontSize={13}>C+Y<tspan fontSize={8} dy={3}>A</tspan></text>
      <text x={112} y={510.5} fontSize={13}>C+Y<tspan fontSize={8} dy={3}>B</tspan></text>

      {/* ================= F ================= */}
      <text x={376} y={484} fontSize={24} fontWeight="bold">F</text>
      <line x1={xF(-3)} x2={xF(3)} y1={yF(0)} y2={yF(0)} stroke="#000" strokeWidth={1.6} />
      <line x1={xF(0)} x2={xF(0)} y1={yF(-3)} y2={yF(3)} stroke="#000" strokeWidth={1.6} />
      {[-3, -2, -1, 0, 1, 2, 3].map(t => (
        <g key={t}>
          <line x1={xF(t)} x2={xF(t)} y1={yF(0)} y2={yF(0) + 4} stroke="#000" strokeWidth={1.4} />
          <line x1={xF(0)} x2={xF(0) - 4} y1={yF(t)} y2={yF(t)} stroke="#000" strokeWidth={1.4} />
          {t !== 0 && <text x={xF(t)} y={yF(0) + 16} textAnchor="middle" fontSize={11} fontWeight="bold">{t}</text>}
          {t !== 0 && <text x={xF(0) - 5} y={yF(t)} dy="0.36em" textAnchor="end" fontSize={11} fontWeight="bold">{t}</text>}
        </g>
      ))}
      <line x1={xF(fx0)} x2={xF(fx1)} y1={yF(icpt + slope * fx0)} y2={yF(icpt + slope * fx1)} stroke="#000" strokeWidth={1.3} />
      {[
        { d: fPhtA, sym: 'circle', fill: '#000', label: 'phtA' },
        { d: fPhtB, sym: 'circle', fill: '#fff', label: 'phtB' },
        { d: fPhtD, sym: 'triangle', fill: '#fff', label: 'phtD' },
        { d: fPhtE, sym: 'square', fill: '#fff', label: 'phtE' },
      ].map((s, k) => (
        <g key={k}>
          {s.d.map((p, i) => (
            <Mark key={i} x={xF(p[0])} y={yF(p[1])} sym={s.sym} size={s.sym === 'triangle' ? 40 : 48} fill={s.fill} stroke="#000" sw={1.1} />
          ))}
          <Mark x={687} y={548 + k * 23.8} sym={s.sym} size={s.sym === 'triangle' ? 40 : 48} fill={s.fill} stroke="#000" sw={1.1} />
          <text x={707} y={548 + k * 23.8} dy="0.36em" fontSize={12} fontStyle="italic">{s.label}</text>
        </g>
      ))}
      <text x={425} y={512} fontSize={12} fontWeight="bold">R<tspan fontSize={8} dy={-5}>2</tspan><tspan dy={5}>=0.7301</tspan></text>
      <text x={425} y={526} fontSize={12} fontWeight="bold">P &lt; 0.0004</text>
      <text x={547} y={689} textAnchor="middle" fontSize={13} fontWeight="bold">Log<tspan fontSize={9} dy={3}>2</tspan><tspan dy={-3}> fold change (RNA-Seq)</tspan></text>
      <text transform="translate(413,585) rotate(-90)" textAnchor="middle" fontSize={13} fontWeight="bold">Log<tspan fontSize={9} dy={3}>2</tspan><tspan dy={-3}> fold change (qPCR)</tspan></text>
    </svg>
  );
}
